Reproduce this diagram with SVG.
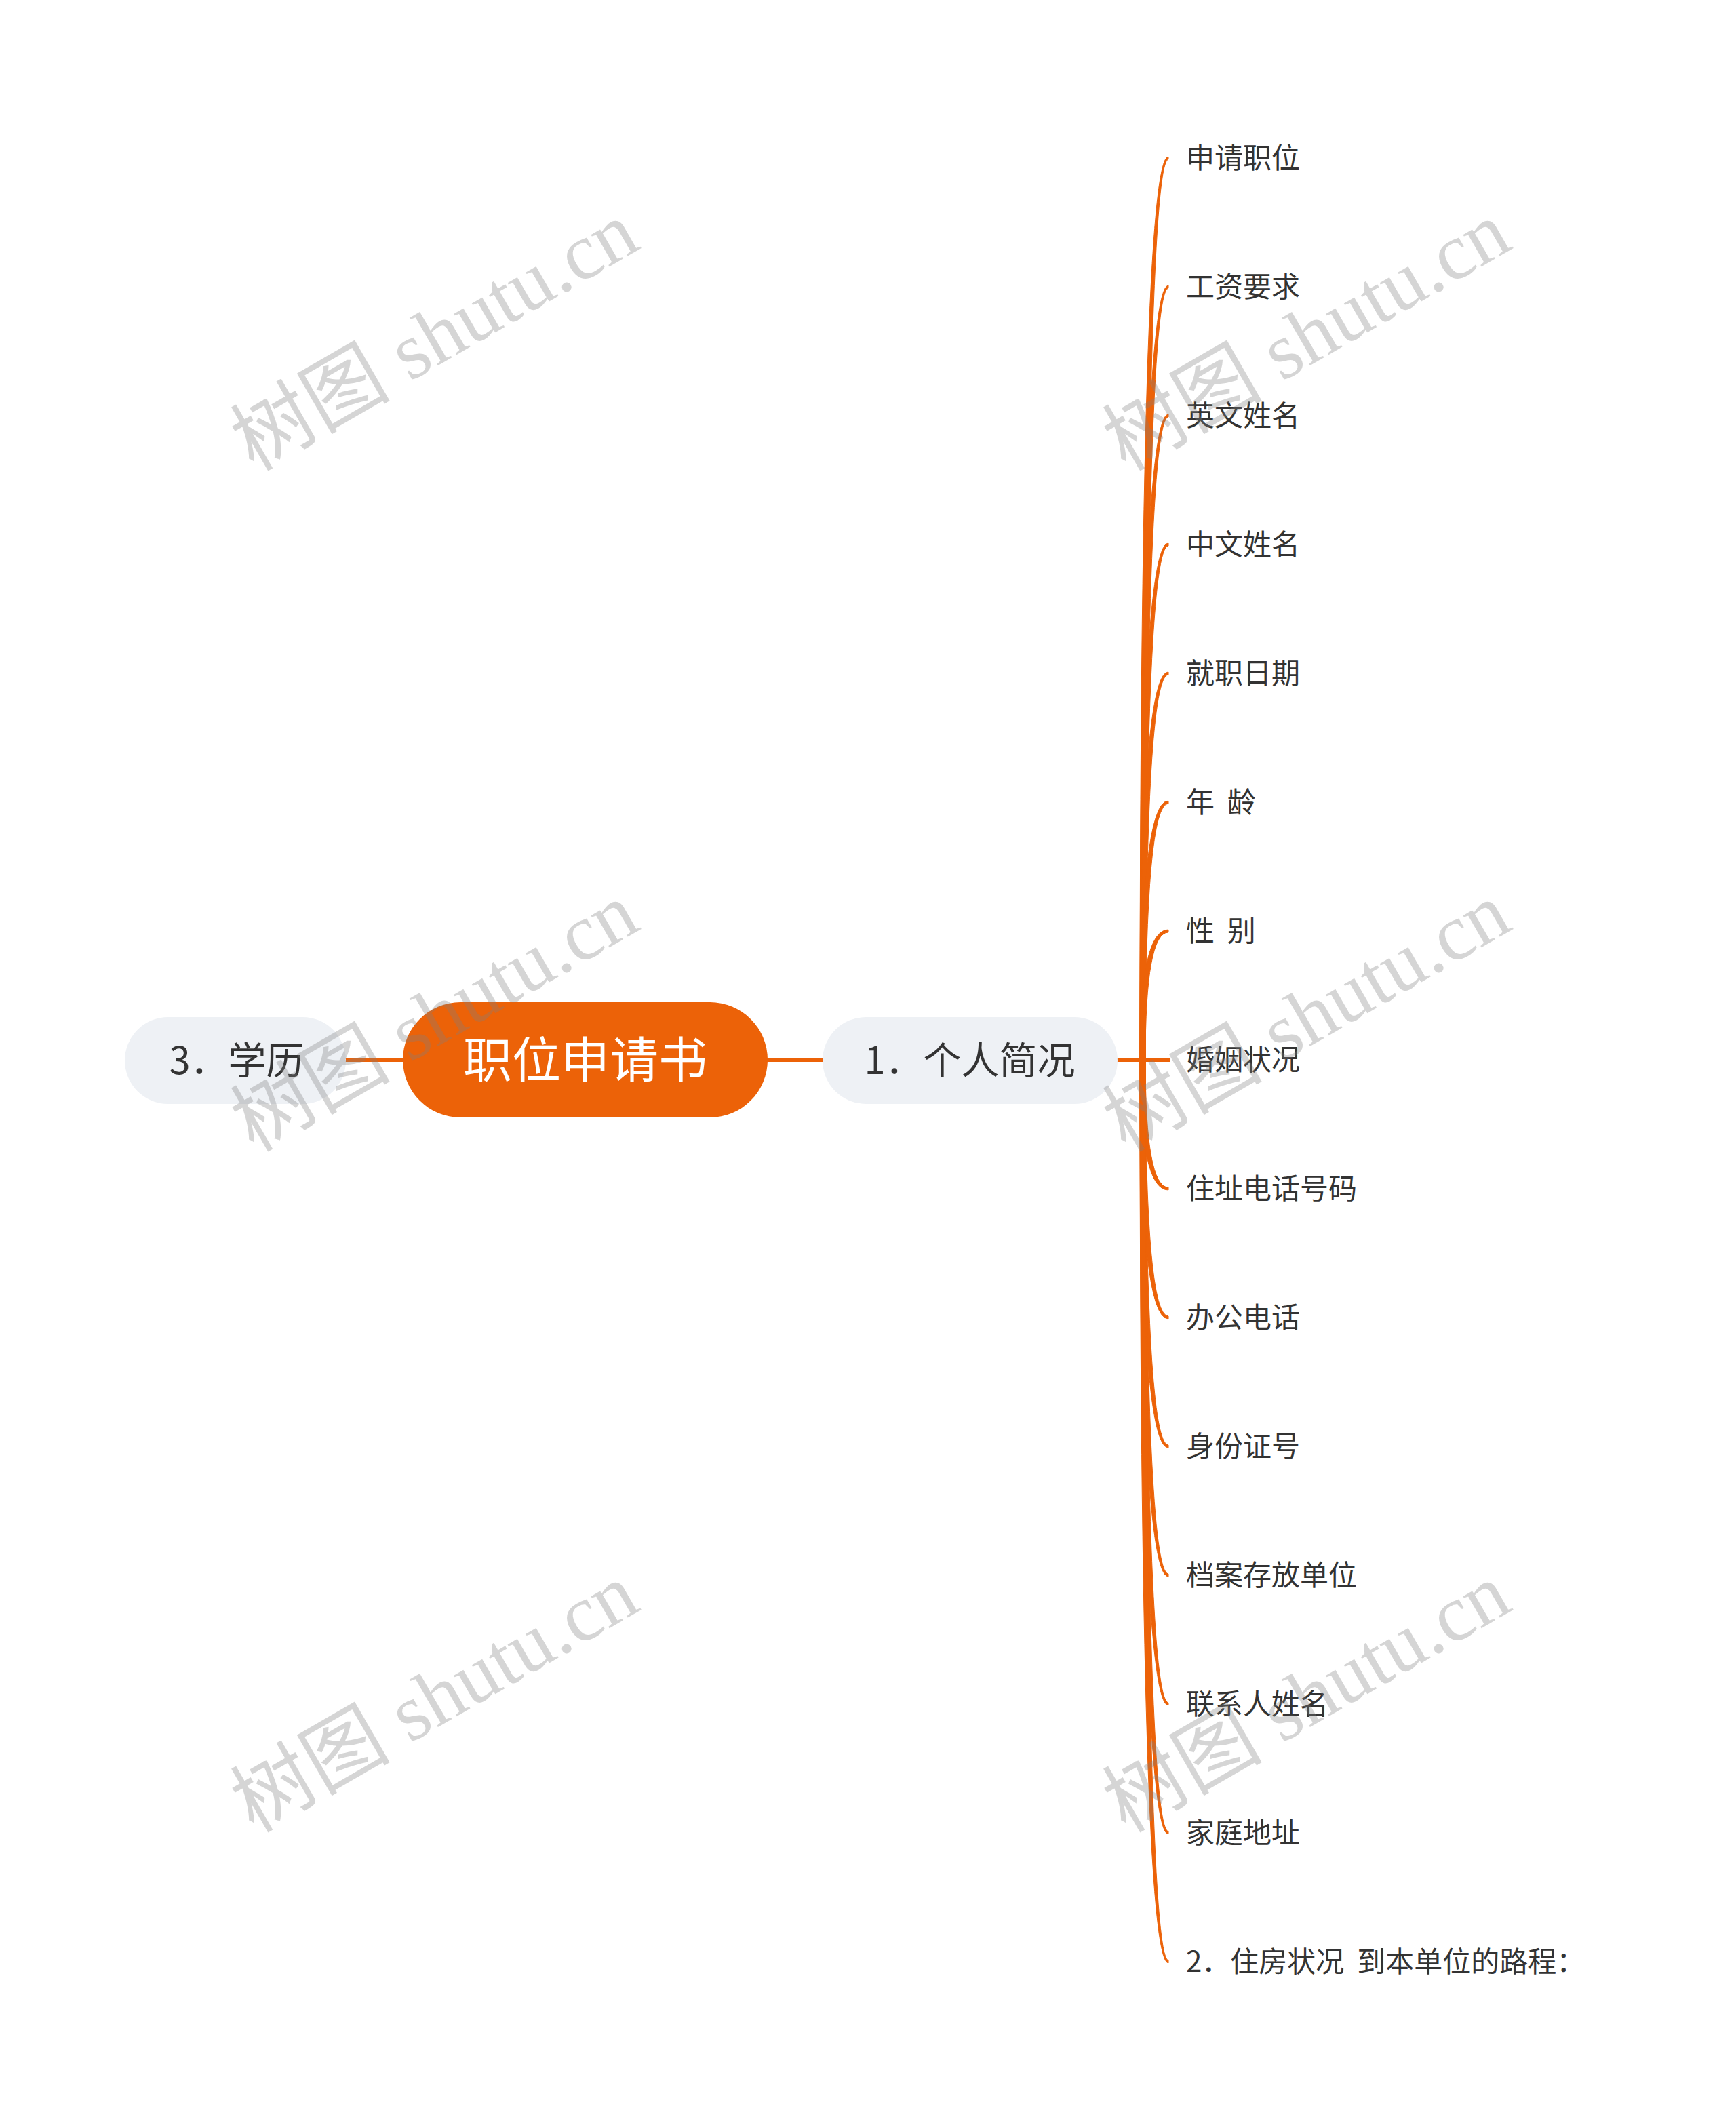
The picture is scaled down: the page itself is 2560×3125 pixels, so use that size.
<svg xmlns="http://www.w3.org/2000/svg" width="2560" height="3125" viewBox="0 0 2560 3125">
<style>
.bg{fill:#ffffff}
.br{fill:#ec6208;stroke:#ec6208;stroke-width:1;stroke-linejoin:round}
.ln{stroke:#ec6208;stroke-width:6;fill:none}
.main{fill:#ec6208}
.sub{fill:#eef1f5}
.t{font-family:"Noto Sans CJK SC","Noto Sans",sans-serif;fill:#333333}
.leaf{font-size:42px}
.subt{font-size:56px;text-anchor:middle}
.maint{font-size:72px;text-anchor:middle;fill:#ffffff}
.wm{font-family:"Liberation Serif","Noto Sans CJK SC",serif;font-size:118px;fill:#808080;fill-opacity:0.33}
</style>
<rect class="bg" x="0" y="0" width="2560" height="3125"/>
<g id="connectors">
<line class="ln" x1="508" y1="1563" x2="596" y2="1563"/>
<line class="ln" x1="1130" y1="1563" x2="1215" y2="1563"/>
<line class="ln" x1="1646" y1="1563" x2="1725" y2="1563"/>
<path class="br" d="M1681,1563 Q1681,231 1723,231 L1723,235 Q1689,235 1689,1563 Z"/>
<path class="br" d="M1681,1563 Q1681,421 1723,421 L1723,425 Q1689,425 1689,1563 Z"/>
<path class="br" d="M1681,1563 Q1681,611 1723,611 L1723,615 Q1689,615 1689,1563 Z"/>
<path class="br" d="M1681,1563 Q1681,801 1723,801 L1723,805 Q1689,805 1689,1563 Z"/>
<path class="br" d="M1681,1563 Q1681,991 1723,991 L1723,995 Q1689,995 1689,1563 Z"/>
<path class="br" d="M1681,1563 Q1681,1181 1723,1181 L1723,1185 Q1689,1185 1689,1563 Z"/>
<path class="br" d="M1681,1563 Q1681,1371 1723,1371 L1723,1375 Q1689,1375 1689,1563 Z"/>
<path class="br" d="M1681,1563 Q1681,1755 1723,1755 L1723,1751 Q1689,1751 1689,1563 Z"/>
<path class="br" d="M1681,1563 Q1681,1945 1723,1945 L1723,1941 Q1689,1941 1689,1563 Z"/>
<path class="br" d="M1681,1563 Q1681,2135 1723,2135 L1723,2131 Q1689,2131 1689,1563 Z"/>
<path class="br" d="M1681,1563 Q1681,2325 1723,2325 L1723,2321 Q1689,2321 1689,1563 Z"/>
<path class="br" d="M1681,1563 Q1681,2515 1723,2515 L1723,2511 Q1689,2511 1689,1563 Z"/>
<path class="br" d="M1681,1563 Q1681,2705 1723,2705 L1723,2701 Q1689,2701 1689,1563 Z"/>
<path class="br" d="M1681,1563 Q1681,2895 1723,2895 L1723,2891 Q1689,2891 1689,1563 Z"/>
</g>
<g id="node-root">
<rect class="main" x="594" y="1478" width="538" height="170" rx="85"/>
<text class="t maint" x="863" y="1589">职位申请书</text>
</g>
<g id="node-1">
<rect class="sub" x="1213" y="1500" width="435" height="128" rx="64"/>
<text class="t subt" x="1430" y="1584">1．个人简况</text>
</g>
<g id="node-3">
<rect class="sub" x="184" y="1500" width="326" height="128" rx="64"/>
<text class="t subt" x="349" y="1584">3．学历</text>
</g>
<g id="leaf-0"><text class="t leaf" x="1749" y="248">申请职位</text></g>
<g id="leaf-1"><text class="t leaf" x="1749" y="438">工资要求</text></g>
<g id="leaf-2"><text class="t leaf" x="1749" y="628">英文姓名</text></g>
<g id="leaf-3"><text class="t leaf" x="1749" y="818">中文姓名</text></g>
<g id="leaf-4"><text class="t leaf" x="1749" y="1008">就职日期</text></g>
<g id="leaf-5"><text class="t leaf" x="1749" y="1198" xml:space="preserve">年  龄</text></g>
<g id="leaf-6"><text class="t leaf" x="1749" y="1388" xml:space="preserve">性  别</text></g>
<g id="leaf-7"><text class="t leaf" x="1749" y="1578">婚姻状况</text></g>
<g id="leaf-8"><text class="t leaf" x="1749" y="1768">住址电话号码</text></g>
<g id="leaf-9"><text class="t leaf" x="1749" y="1958">办公电话</text></g>
<g id="leaf-10"><text class="t leaf" x="1749" y="2148">身份证号</text></g>
<g id="leaf-11"><text class="t leaf" x="1749" y="2338">档案存放单位</text></g>
<g id="leaf-12"><text class="t leaf" x="1749" y="2528">联系人姓名</text></g>
<g id="leaf-13"><text class="t leaf" x="1749" y="2718">家庭地址</text></g>
<g id="leaf-14"><text class="t leaf" x="1749" y="2908" xml:space="preserve">2．住房状况  到本单位的路程：</text></g>
<g id="watermarks">
<text class="wm" transform="translate(374,696) rotate(-30)">树图 shutu.cn</text>
<text class="wm" transform="translate(1660,696) rotate(-30)">树图 shutu.cn</text>
<text class="wm" transform="translate(374,1700) rotate(-30)">树图 shutu.cn</text>
<text class="wm" transform="translate(1660,1700) rotate(-30)">树图 shutu.cn</text>
<text class="wm" transform="translate(374,2704) rotate(-30)">树图 shutu.cn</text>
<text class="wm" transform="translate(1660,2704) rotate(-30)">树图 shutu.cn</text>
</g>
</svg>
